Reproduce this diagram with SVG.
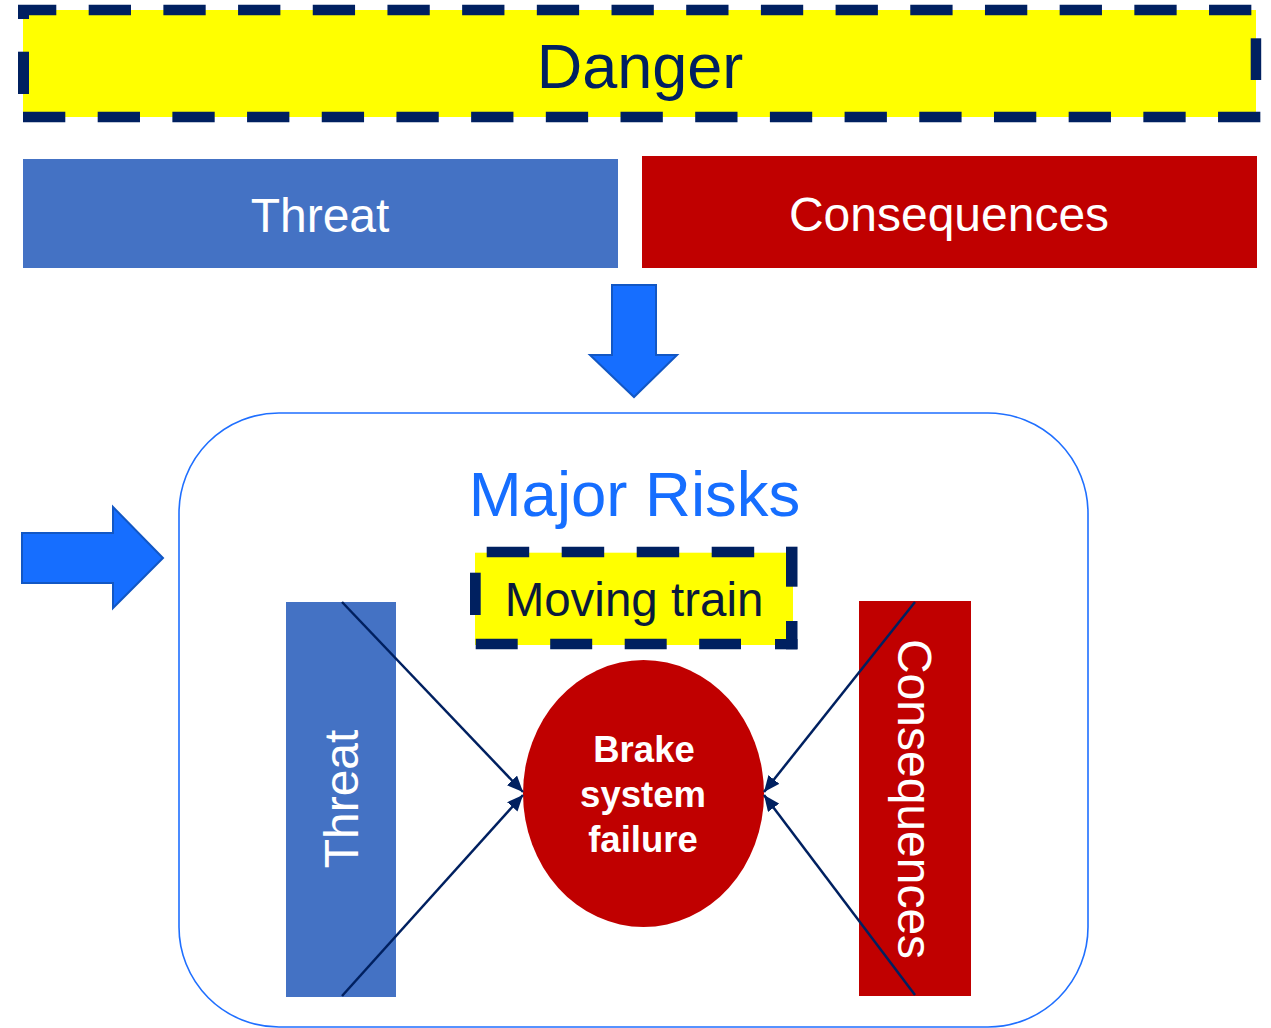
<svg xmlns="http://www.w3.org/2000/svg" width="1271" height="1028" viewBox="0 0 1271 1028">
  <defs>
    <style>
      .txt { font-family: "Liberation Sans", Arial, sans-serif; }
      .fillY { fill: #FFFF00; }
      .dash { fill: none; stroke: #002060; stroke-width: 10.5; }
      .dashbit { fill: #002060; }
      .blockarrow { fill: #166EFF; stroke: #1257C4; stroke-width: 2; stroke-linejoin: miter; }
      .link { fill: none; stroke: #002060; stroke-width: 2.5; marker-end: url(#head); }
    </style>
    <marker id="head" markerUnits="userSpaceOnUse" markerWidth="18" markerHeight="14" refX="16" refY="7" orient="auto">
      <path d="M0,0 L16,7 L0,14 Z" fill="#002060"/>
    </marker>
  </defs>

  <rect width="1271" height="1028" fill="#FFFFFF"/>

  <!-- outer container -->
  <g id="major-risks">
    <rect x="179" y="413" width="909" height="614" rx="100" ry="100" fill="none" stroke="#1F6FFF" stroke-width="1.6"/>
    <text class="txt" x="634.5" y="516" font-size="63.5" fill="#166EFF" text-anchor="middle">Major Risks</text>
  </g>

  <!-- block arrows -->
  <g id="arrow-down">
    <path class="blockarrow" d="M612,285 L656,285 L656,355 L677,355 L634,397 L590,355 L612,355 Z"/>
  </g>
  <g id="arrow-right">
    <path class="blockarrow" d="M22,533 L113,533 L113,507 L163,558 L113,608 L113,583 L22,583 Z"/>
  </g>

  <!-- top row -->
  <g id="danger">
    <rect class="fillY" x="23" y="10" width="1233" height="107"/>
    <line class="dash" x1="18" y1="10" x2="1256" y2="10" stroke-dasharray="42.3 32.39" stroke-dashoffset="4"/>
    <line class="dash" x1="23" y1="117" x2="1261" y2="117" stroke-dasharray="42.3 32.39"/>
    <rect class="dashbit" x="18" y="5" width="11" height="14"/>
    <rect class="dashbit" x="18" y="51.7" width="11" height="42.3"/>
    <rect class="dashbit" x="1250.7" y="38.3" width="10.5" height="41.7"/>
    <text class="txt" x="640" y="88" font-size="63" fill="#002060" text-anchor="middle">Danger</text>
  </g>
  <g id="threat">
    <rect x="23" y="159" width="595" height="109" fill="#4472C4"/>
    <text class="txt" x="320" y="232" font-size="48" fill="#FFFFFF" text-anchor="middle">Threat</text>
  </g>
  <g id="consequences">
    <rect x="642" y="156" width="615" height="112" fill="#C00000"/>
    <text class="txt" x="949" y="231" font-size="48" fill="#FFFFFF" text-anchor="middle">Consequences</text>
  </g>

  <!-- bow-tie -->
  <g id="moving-train">
    <rect class="fillY" x="475" y="552.7" width="318" height="92.3"/>
    <line class="dash" x1="486.7" y1="552" x2="754.2" y2="552" stroke-dasharray="42.5 32.5"/>
    <line class="dash" x1="475.7" y1="644" x2="741" y2="644" stroke-dasharray="42 32.5"/>
    <rect class="dashbit" x="786" y="546.7" width="11.5" height="40"/>
    <rect class="dashbit" x="786" y="621" width="11.5" height="28.3"/>
    <rect class="dashbit" x="775" y="639" width="22.5" height="10.3"/>
    <rect class="dashbit" x="470" y="572.7" width="10.7" height="42.3"/>
    <text class="txt" x="634" y="616" font-size="47.5" fill="#0A1A3C" text-anchor="middle">Moving train</text>
  </g>
  <g id="threat-bar">
    <rect x="286" y="602" width="110" height="395" fill="#4472C4"/>
    <text class="txt" transform="translate(358,799) rotate(-90)" x="0" y="0" font-size="48" fill="#FFFFFF" text-anchor="middle">Threat</text>
  </g>
  <g id="consequences-bar">
    <rect x="859" y="601" width="112" height="395" fill="#C00000"/>
    <text class="txt" transform="translate(898,799) rotate(90)" x="0" y="0" font-size="48" fill="#FFFFFF" text-anchor="middle">Consequences</text>
  </g>
  <g id="brake-failure">
    <ellipse cx="643.5" cy="793.5" rx="120.5" ry="133.5" fill="#C00000"/>
    <text class="txt" font-size="36.5" font-weight="bold" fill="#FFFFFF" text-anchor="middle"><tspan x="644" y="762">Brake</tspan><tspan x="643" y="807">system</tspan><tspan x="643" y="852">failure</tspan></text>
  </g>

  <!-- connectors -->
  <g id="connectors">
    <line class="link" x1="342" y1="602" x2="523" y2="792"/>
    <line class="link" x1="342" y1="996" x2="523" y2="795"/>
    <line class="link" x1="915" y1="602" x2="764" y2="792"/>
    <line class="link" x1="915" y1="995" x2="764" y2="795"/>
  </g>
</svg>
